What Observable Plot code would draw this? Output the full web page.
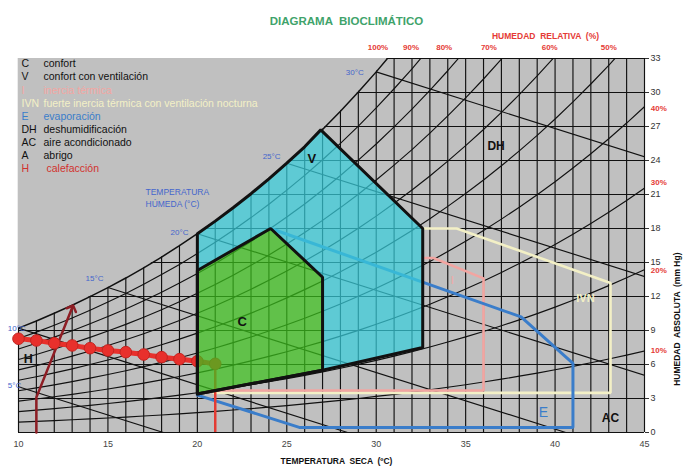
<!DOCTYPE html>
<html><head><meta charset="utf-8">
<script src="https://cdn.jsdelivr.net/npm/d3@7"></script>
<script src="https://cdn.jsdelivr.net/npm/@observablehq/plot@0.6"></script>
<style>body{margin:0;background:#fff;}</style>
</head><body><div id="chart"></div>
<script>
// ---- data ----
const temperatures = [10,11,12,13,14,15,16,17,18,19,20,21,22,23,24,25,26,27,28,29,30,31,32,33,34,35,36,37,38,39,40,41,42,43,44,45];
// saturation (100% RH) absolute humidity, mm Hg
const saturation = [9.21,9.84,10.52,11.23,11.99,12.79,13.63,14.53,15.48,16.48,17.54,18.65,19.83,21.07,22.38,23.76,25.21,26.74,28.35,30.04,31.82,33.70,35.66,37.73,39.90,42.18,44.56,47.07,49.69,52.44,55.32,58.34,61.50,64.80,68.26,71.88];
const rhLevels = [10,20,30,40,50,60,70,80,90];
const humidityTicks = [0,3,6,9,12,15,18,21,24,27,30,33];
const tempTicks = [10,15,20,25,30,35,40,45];
const rhTopLabels = ["100%","90%","80%","70%","60%","50%"];
const rhTopTemps = [30.1,31.95,33.8,36.3,39.7,43.0];
const rhRightLabels = ["40%","30%","20%","10%"];
const rhRightHum = [28.6,22.1,14.3,7.2];
const wetBulbNames = ["5°C","10°C","15°C","20°C","25°C","30°C"];
const wetBulbStart = [[10,4.04],[10,9.21],[15,12.79],[20,17.54],[25,23.76],[30,31.82]];
const wetBulbEnd = [[18.1,0],[28.4,0],[40.6,0],[45,5.04],[45,13.76],[45,24.32]];
// zones
const zoneC = [[20,3.4],[20,14.3],[24.1,18.0],[27,13.7],[27,5.5]];
const zoneVTop = [[26.9,26.7],[32.6,18.0],[32.6,7.5],[27,5.5]];
const zoneE = [[24.1,18.0],[38.1,10.2],[41.0,6.1],[41.0,0.45],[25.7,0.45],[20,3.3]];
const zoneI = [[32.6,15.4],[33.2,15.4],[36.0,13.6],[36.0,3.7],[20.9,3.7]];
const zoneIVN = [[32.6,18.0],[34.5,18.0],[43.1,13.2],[43.1,3.5],[20.9,3.5]];
const heatingLine = [[11,0],[11,3.1],[13,11.0]];
// climate line (dots)
const climateTemps = [10,11,12,13,14,15,16,17,18,19,20,21];
const climateHum = [8.27,8.12,7.88,7.68,7.44,7.24,7.09,6.88,6.65,6.47,6.29,6.06];
// legend
const legendCodes = ["C","V","I","IVN","E","DH","AC","A","H"];
const legendTexts = ["confort","confort con ventilación","inercia térmica","fuerte inercia térmica con ventilación nocturna","evaporación","deshumidificación","aire acondicionado","abrigo","calefacción"];

// ---- styles ----
const GRAY = "#c0c0c0", INK = "#111";
const CREAM = "#f3f0c6", PINK = "#f4a6a2", BLUE = "#3a7dca";
const legendColors = [INK, INK, PINK, CREAM, BLUE, INK, INK, INK, "#d2322e"];
const FONT = "'Liberation Sans', Arial, sans-serif";

// ---- derived tables ----
const sat = temperatures.map((t, i) => ({t, e: saturation[i]}));
const rhCurves = rhLevels.flatMap(rh => temperatures.map((t, i) => ({rh, t, e: saturation[i] * rh / 100})));
const wetBulbs = wetBulbNames.map((n, i) => ({n, a: wetBulbStart[i], b: wetBulbEnd[i]}));
const satV = sat.filter(d => d.t >= 20 && d.t <= 26).map(d => [d.t, d.e]);
const zoneV = [zoneC[0], ...satV, ...zoneVTop, zoneC[0]];
const zoneVFill = [zoneC[1], ...satV, ...zoneVTop, zoneC[3], zoneC[2]];
const climate = climateTemps.map((t, i) => ({t, e: climateHum[i]}));
const boldLabels = [
  {s:"V", t:26.4, e:24.15, c:INK, f:13},
  {s:"C", t:22.5, e:9.75, c:INK, f:13},
  {s:"DH", t:36.7, e:25.3, c:INK, f:12},
  {s:"AC", t:43.1, e:1.25, c:INK, f:12},
  {s:"H", t:10.55, e:6.5, c:INK, f:12.5},
  {s:"IVN", t:41.7, e:11.8, c:CREAM, f:11}
];
const plainLabels = [
  {s:"E", t:39.35, e:1.77, c:BLUE, f:14},
  {s:"I", t:34.25, e:13.4, c:PINK, f:11}
];
const wbLabelPos = [[9.4,4.15],[9.4,9.2],[13.75,13.6],[18.5,17.65],[23.65,24.4],[28.3,31.8]];

const X = d => d[0], Y = d => d[1];
const closed = pts => [...pts, pts[0]];

const marks = [
  Plot.frame({fill: GRAY, stroke: null}),
  Plot.ruleX(temperatures, {y1: 0, y2: 33, stroke: INK, strokeWidth: 1.15}),
  Plot.ruleY(humidityTicks, {x1: 10, x2: 45, stroke: INK, strokeWidth: 1.15}),
  Plot.line(rhCurves, {x: "t", y: "e", z: "rh", stroke: INK, strokeWidth: 1.15, clip: true}),
  Plot.areaY(sat, {x: "t", y1: "e", y2: 33, fill: GRAY, clip: true}),
  Plot.line(sat, {x: "t", y: "e", stroke: INK, strokeWidth: 1.5, clip: true}),
  Plot.link(wetBulbs, {x1: d => d.a[0], y1: d => d.a[1], x2: d => d.b[0], y2: d => d.b[1], stroke: INK, strokeWidth: 1.15, clip: true}),
  // strategies
  Plot.line(zoneIVN, {x: X, y: Y, stroke: CREAM, strokeWidth: 2.6, strokeLinejoin: "miter"}),
  Plot.line(zoneI, {x: X, y: Y, stroke: "#f2a5a1", strokeWidth: 2.6, strokeLinejoin: "miter"}),
  Plot.line(zoneE, {x: X, y: Y, stroke: BLUE, strokeWidth: 3, strokeLinejoin: "miter"}),
  Plot.line(heatingLine, {x: X, y: Y, stroke: "#8e1d24", strokeWidth: 2.5, markerEnd: "arrow"}),
  Plot.ruleX([climateTemps[climateTemps.length - 1]], {y1: 0, y2: climateHum[climateHum.length - 1], stroke: "#e33b33", strokeWidth: 2.5}),
  Plot.line(climate, {x: "t", y: "e", stroke: "#e8302c", strokeWidth: 5, strokeDasharray: "6,2"}),
  Plot.dot(climate, {x: "t", y: "e", r: 5.8, fill: "#e8302c", stroke: "#c42420", strokeWidth: 1}),
  // zone fills
  Plot.line(zoneVFill, {x: X, y: Y, fill: "#37cddb", fillOpacity: 0.72, stroke: "none"}),
  Plot.line(zoneC, {x: X, y: Y, fill: "#3cc01c", fillOpacity: 0.72, stroke: "none"}),
  Plot.line(zoneV, {x: X, y: Y, stroke: INK, strokeWidth: 3, strokeLinejoin: "miter"}),
  Plot.line(closed(zoneC), {x: X, y: Y, stroke: INK, strokeWidth: 3, strokeLinejoin: "miter"}),
  // labels
  Plot.text(wetBulbs, {x: (d, i) => wbLabelPos[i][0], y: (d, i) => wbLabelPos[i][1], text: "n", textAnchor: "start", fill: "#4466cc", fontSize: 8}),
  Plot.text(["TEMPERATURA\nHÚMEDA (°C)"], {x: 17.1, y: 20.8, text: d => d, textAnchor: "start", fill: "#4466cc", fontSize: 8.5, lineHeight: 1.45}),
  Plot.text(boldLabels, {x: "t", y: "e", text: "s", fill: d => d.c, fontWeight: "bold", fontSize: d => d.f}),
  Plot.text(plainLabels, {x: "t", y: "e", text: "s", fill: d => d.c, fontSize: d => d.f}),
  ...legendCodes.map((c, i) => Plot.text([c], {text: d => d, frameAnchor: "top-left", lineAnchor: "middle", textAnchor: "start", dx: 3, dy: 5.5 + 13.1 * i, fill: legendColors[i], fontSize: 10.5})),
  ...legendTexts.map((c, i) => Plot.text([c], {text: d => d, frameAnchor: "top-left", lineAnchor: "middle", textAnchor: "start", dx: (legendCodes[i] === "H" ? 28 : 25), dy: 5.5 + 13.1 * i, fill: legendColors[i], fontSize: 10.5})),
  // relative humidity labels
  Plot.text(rhTopLabels, {x: (d, i) => rhTopTemps[i], y: 34.0, text: d => d, fill: "#e53b36", fontWeight: "bold", fontSize: 8}),
  Plot.text(rhRightLabels, {x: 45.35, y: (d, i) => rhRightHum[i], text: d => d, textAnchor: "start", fill: "#e53b36", fontWeight: "bold", fontSize: 8}),
  Plot.text(["HUMEDAD  RELATIVA  (%)"], {frameAnchor: "top", dx: 214, dy: -26, text: d => d, fill: "#e53b36", fontWeight: "bold", fontSize: 8.5}),
  Plot.text(["DIAGRAMA  BIOCLIMÁTICO"], {frameAnchor: "top", dx: 15, dy: -42, text: d => d, fill: "#3fa36b", fontWeight: "bold", fontSize: 11.5}),
  Plot.text(["HUMEDAD  ABSOLUTA  (mm Hg)"], {frameAnchor: "right", dx: 33, dy: 7, rotate: -90, text: d => d, fill: INK, fontWeight: "bold", fontSize: 8.5}),
  Plot.text(["TEMPERATURA  SECA  (ºC)"], {frameAnchor: "bottom", dx: 5, dy: 31, text: d => d, fill: INK, fontWeight: "bold", fontSize: 8.5}),
  // axes
  Plot.axisY(humidityTicks, {anchor: "right", tickSize: 4, tickPadding: 2, fontSize: 9, color: "#333", label: null}),
  Plot.axisX(tempTicks, {anchor: "bottom", tickSize: 0, tickPadding: 8, fontSize: 9, color: "#444", label: null})
];

const chart = Plot.plot({
  width: 687, height: 473,
  marginTop: 58, marginBottom: 41, marginLeft: 18, marginRight: 43,
  x: {domain: [10, 45]},
  y: {domain: [0, 33]},
  style: {fontFamily: FONT, background: "#fff", overflow: "visible"},
  marks
});
document.getElementById("chart").append(chart);
</script>
</body></html>
